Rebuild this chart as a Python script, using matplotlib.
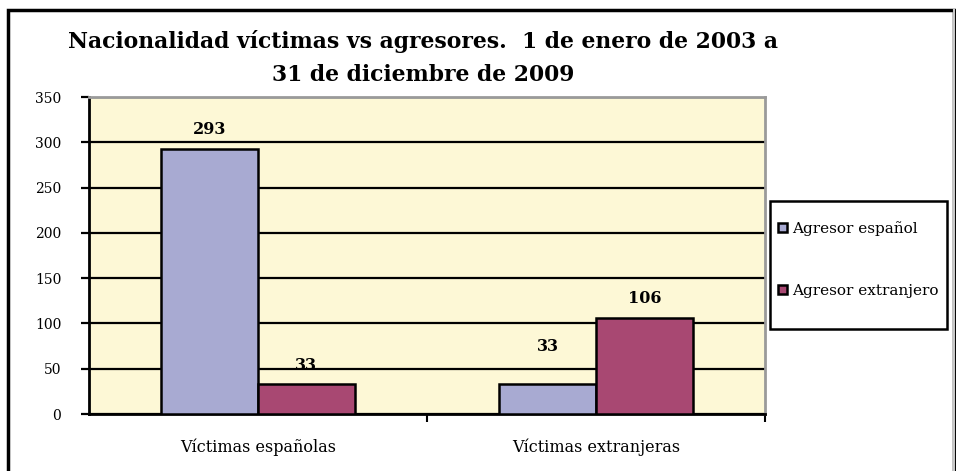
import matplotlib
matplotlib.use("Agg")
import matplotlib.pyplot as plt
import numpy as np
from matplotlib.patches import Rectangle

categories = ["Víctimas españolas", "Víctimas extranjeras"]
series_names = ["Agresor español", "Agresor extranjero"]
agresor_espanol = [293, 33]
agresor_extranjero = [33, 106]
yticks = [0, 50, 100, 150, 200, 250, 300, 350]
title = "Nacionalidad víctimas vs agresores.  1 de enero de 2003 a\n31 de diciembre de 2009"

colors = ["#A8AAD2", "#A84872"]
bg = "#FDF8D6"
serif = ["DejaVu Serif"]

W, H = 956, 471
fig = plt.figure(figsize=(W/100, H/100), dpi=100)
fig.patch.set_facecolor("white")

def fx(px):
    return px / W

def fy(py):
    return 1 - py / H

# outer chart frame
fig.add_artist(Rectangle((fx(8), -0.05), fx(954-8), fy(10) + 0.05,
                         transform=fig.transFigure, fill=False,
                         edgecolor="black", linewidth=2.5))
fig.add_artist(plt.Line2D([fx(954), fx(954)], [0, fy(10)], transform=fig.transFigure,
                          color="#C8C8C8", linewidth=1.5))

ax = fig.add_axes([fx(89), fy(414), fx(765-89), (414-97)/H])
ax.set_facecolor(bg)

x = np.arange(len(categories))
w = 1/3.5
series = [agresor_espanol, agresor_extranjero]
# offsets (points) of the value labels above bar tops: per series, per category
label_offsets = [[8, 21], [7, 8]]
for i, (vals, name) in enumerate(zip(series, series_names)):
    xs = x + (i - 0.5) * w
    ax.bar(xs, vals, width=w, color=colors[i], edgecolor="black",
           linewidth=1.8, label=name, zorder=3)
    for j, (xx, v) in enumerate(zip(xs, vals)):
        ax.annotate(str(v), (xx, v), xytext=(0, label_offsets[i][j]),
                    textcoords="offset points", ha="center", va="bottom",
                    fontsize=11.5, fontweight="bold", family=serif, zorder=5)

ax.set_xlim(-0.5, 1.5)
ax.set_ylim(0, 350)
ax.set_yticks(yticks)
ax.set_yticklabels([str(t) for t in yticks], family=serif, fontsize=10)
ax.yaxis.grid(True, color="black", linewidth=1.6, zorder=1)
ax.set_axisbelow(True)

ax.set_xticks([0.5, 1.5])
ax.set_xticklabels([])
ax.set_xticks(x, minor=True)
ax.set_xticklabels(categories, minor=True, family=serif, fontsize=11.5)
ax.tick_params(axis="x", which="minor", length=0, pad=18)
ax.tick_params(axis="x", which="major", length=6, width=1.5, direction="out")
ax.tick_params(axis="y", length=6, width=1.6, direction="out", pad=14)

for s in ["left", "bottom"]:
    ax.spines[s].set_color("black")
    ax.spines[s].set_linewidth(2)
for s in ["top", "right"]:
    ax.spines[s].set_color("#9A9A9A")
    ax.spines[s].set_linewidth(2)

fig.text(fx(423), fy(58), title, ha="center", va="center",
         fontsize=15.75, fontweight="bold", family=serif, linespacing=1.6)

# legend with manually drawn frame
fig.add_artist(Rectangle((fx(770), fy(329)), fx(947-770), (329-201)/H,
                         transform=fig.transFigure, fill=True, facecolor="white",
                         edgecolor="black", linewidth=1.8, zorder=4))
leg = fig.legend(loc="upper left", bbox_to_anchor=(fx(778), fy(221)),
                 frameon=False, prop={"family": serif, "size": 11},
                 handlelength=0.6, handleheight=0.6, handletextpad=0.35,
                 labelspacing=3.15, borderpad=0, borderaxespad=0)
leg.set_zorder(5)

fig.savefig("out.png", dpi=100)
